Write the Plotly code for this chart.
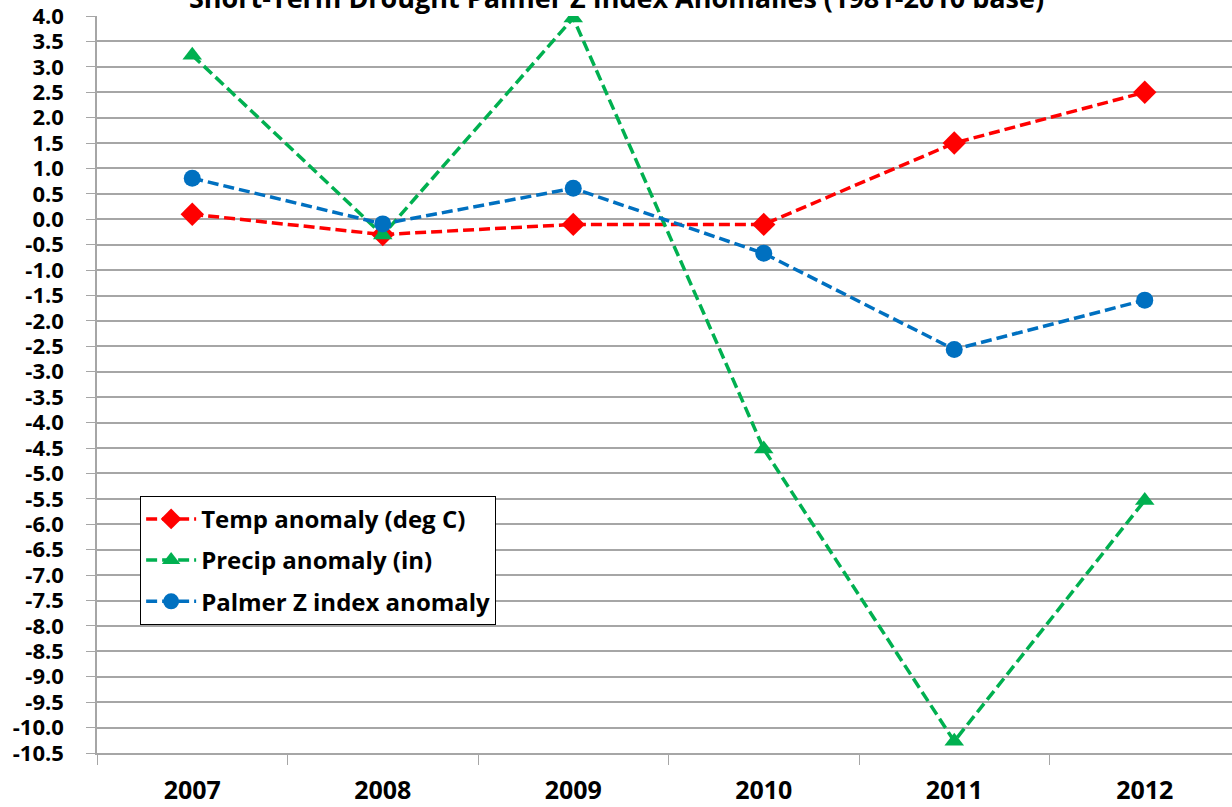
"""Short-term drought: Palmer Z index anomalies line chart."""

import plotly.graph_objects as go

years = ["2007", "2008", "2009", "2010", "2011", "2012"]
temp_anomaly = [0.1, -0.3, -0.1, -0.1, 1.5, 2.5]
precip_anomaly = [3.23, -0.31, 3.96, -4.52, -10.27, -5.53]
palmer_z_anomaly = [0.81, -0.09, 0.61, -0.67, -2.56, -1.59]
y_ticks = [4.0 - 0.5 * i for i in range(30)]
y_labels = [f"{v:.1f}" for v in y_ticks]

FONT = "Open Sans"
GRID = "#a6a6a6"

fig = go.Figure()

series = [
    ("Temp anomaly (deg C)", temp_anomaly, "#ff0000", "diamond", 18),
    ("Precip anomaly (in)", precip_anomaly, "#00b050", "triangle-up", 17),
    ("Palmer Z index anomaly", palmer_z_anomaly, "#0070c0", "circle", 17),
]
for name, values, color, symbol, size in series:
    fig.add_trace(
        go.Scatter(
            x=years,
            y=values,
            name=name,
            legendgroup=name,
            mode="lines+markers",
            line=dict(color=color, width=3.5, dash="11px,5px"),
            marker=dict(color=color, symbol=symbol, size=size),
        )
    )

# title sits mostly above the top edge, like the cropped original
fig.add_annotation(
    text="Short-Term Drought Palmer Z Index Anomalies (1981-2010 base)",
    xref="paper",
    yref="paper",
    x=0.458,
    y=1,
    xanchor="center",
    yanchor="middle",
    yshift=19,
    showarrow=False,
    font=dict(size=27, family=FONT, weight="bold", color="black"),
)

fig.update_layout(
    width=1232,
    height=807,
    paper_bgcolor="white",
    plot_bgcolor="white",
    margin=dict(l=97, r=0, t=16, b=54),
    font=dict(family=FONT, color="black", weight="bold"),
    legend=dict(
        x=0.038,
        y=0.349,
        xanchor="left",
        yanchor="top",
        bgcolor="white",
        bordercolor="black",
        borderwidth=1,
        font=dict(size=24, family=FONT, weight="bold"),
        itemwidth=50,
        tracegroupgap=7,
    ),
    xaxis=dict(
        type="category",
        range=[-0.5, 5.458],
        showgrid=False,
        showline=True,
        linecolor=GRID,
        linewidth=1.5,
        ticks="outside",
        tickson="boundaries",
        ticklen=10,
        tickcolor=GRID,
        tickfont=dict(size=25, family=FONT, weight="bold"),
        ticklabelstandoff=14,
    ),
    yaxis=dict(
        range=[-10.5, 4.0],
        tickvals=y_ticks,
        ticktext=y_labels,
        showgrid=True,
        gridcolor=GRID,
        gridwidth=1.5,
        zeroline=False,
        showline=True,
        linecolor=GRID,
        linewidth=1.5,
        ticks="outside",
        ticklen=9,
        tickcolor=GRID,
        tickfont=dict(size=22, family=FONT, weight="bold"),
        ticklabelstandoff=18,
        ticklabeloverflow="allow",
    ),
)

# the page's default body margin would push the chart 8px down and right
fig.write_html(
    "out.html",
    config={"displayModeBar": False},
    post_script="document.body.style.margin = '0';",
)
